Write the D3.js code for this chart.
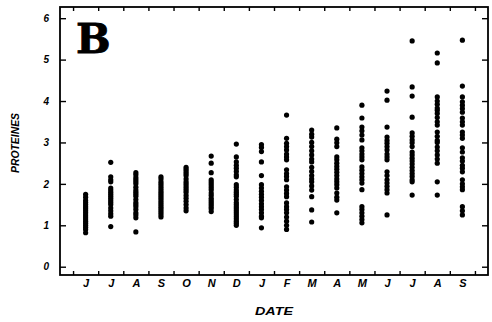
<!DOCTYPE html>
<html>
<head>
<meta charset="utf-8">
<script src="https://cdn.jsdelivr.net/npm/d3@7"></script>
<style>
    body { margin: 0; background: #fff; }
    svg { display: block; }
</style>
</head>
<body>
<div class="chart-container"></div>
<script>
// month labels along the x axis (June -> September of the next year)
const months = ['J', 'J', 'A', 'S', 'O', 'N', 'D', 'J', 'F', 'M', 'A', 'M', 'J', 'J', 'A', 'S'];
const yTicks = [0, 1, 2, 3, 4, 5, 6];

// protein values per sampling month
const jun = [1.75, 1.68, 1.6, 1.55, 1.5, 1.45, 1.4, 1.35, 1.3, 1.25, 1.2, 1.15, 1.1, 1.05, 1.0, 0.95, 0.9, 0.82];
const jul = [2.52, 2.17, 2.1, 2.05, 1.9, 1.85, 1.8, 1.75, 1.7, 1.65, 1.6, 1.55, 1.5, 1.42, 1.35, 1.28, 1.22, 0.97];
const aug = [2.27, 2.22, 2.15, 2.1, 2.05, 2.0, 1.92, 1.85, 1.8, 1.75, 1.7, 1.62, 1.55, 1.5, 1.45, 1.38, 1.3, 1.25, 1.18, 0.84];
const sep = [2.17, 2.12, 2.05, 2.0, 1.95, 1.9, 1.85, 1.8, 1.75, 1.7, 1.65, 1.6, 1.55, 1.5, 1.45, 1.4, 1.35, 1.3, 1.25, 1.2];
const oct = [2.4, 2.35, 2.3, 2.25, 2.2, 2.12, 2.05, 2.0, 1.95, 1.9, 1.85, 1.8, 1.72, 1.65, 1.58, 1.5, 1.42, 1.35];
const nov = [2.67, 2.5, 2.27, 2.1, 2.05, 2.0, 1.95, 1.9, 1.85, 1.78, 1.72, 1.65, 1.6, 1.55, 1.5, 1.45, 1.4, 1.33];
const dec = [2.96, 2.65, 2.53, 2.45, 2.38, 2.3, 2.22, 2.17, 1.98, 1.92, 1.85, 1.8, 1.75, 1.7, 1.62, 1.55, 1.5, 1.45, 1.4, 1.35, 1.3, 1.25, 1.2, 1.15, 1.1, 1.05, 1.0];
const jan = [2.95, 2.88, 2.78, 2.53, 2.2, 1.98, 1.9, 1.82, 1.75, 1.68, 1.6, 1.52, 1.45, 1.38, 1.3, 1.22, 1.18, 0.94];
const feb = [3.66, 3.1, 2.98, 2.9, 2.82, 2.72, 2.65, 2.58, 2.34, 2.25, 2.18, 2.1, 1.93, 1.85, 1.77, 1.69, 1.54, 1.45, 1.38, 1.3, 1.2, 1.1, 1.0, 0.9];
const mar = [3.3, 3.2, 3.13, 3.0, 2.9, 2.8, 2.7, 2.6, 2.53, 2.4, 2.3, 2.2, 2.12, 2.05, 1.95, 1.85, 1.69, 1.37, 1.08];
const apr = [3.35, 3.08, 2.99, 2.9, 2.65, 2.58, 2.5, 2.42, 2.35, 2.28, 2.2, 2.12, 2.05, 1.98, 1.9, 1.78, 1.68, 1.61, 1.3];
const may = [3.9, 3.59, 3.37, 3.28, 3.18, 3.06, 2.87, 2.8, 2.72, 2.65, 2.58, 2.41, 2.33, 2.25, 2.17, 2.1, 2.02, 1.86, 1.45, 1.38, 1.3, 1.22, 1.14, 1.06];
const jun2 = [4.24, 4.02, 3.37, 3.13, 3.05, 2.98, 2.9, 2.82, 2.72, 2.65, 2.58, 2.29, 2.2, 2.1, 2.02, 1.94, 1.86, 1.78, 1.25];
const jul2 = [5.45, 4.34, 4.12, 3.61, 3.23, 3.15, 3.06, 2.99, 2.9, 2.77, 2.7, 2.62, 2.55, 2.48, 2.4, 2.32, 2.25, 2.18, 2.1, 2.05, 1.73];
const aug2 = [5.16, 4.92, 4.1, 4.0, 3.92, 3.83, 3.78, 3.7, 3.6, 3.5, 3.42, 3.25, 3.15, 3.05, 3.0, 2.89, 2.8, 2.7, 2.6, 2.5, 2.05, 1.73];
const sep2 = [5.47, 4.36, 4.1, 3.98, 3.9, 3.82, 3.73, 3.59, 3.5, 3.42, 3.25, 3.18, 3.1, 2.87, 2.77, 2.63, 2.55, 2.45, 2.38, 2.29, 2.1, 2.0, 1.93, 1.86, 1.45, 1.35, 1.25];

const columns = [jun, jul, aug, sep, oct, nov, dec, jan, feb, mar, apr, may, jun2, jul2, aug2, sep2];

const data = [];
columns.forEach((col, i) => col.forEach(v => data.push({ month: i, value: v })));

const width = 492;
const height = 322;
const marginLeft = 60, marginRight = 488, marginTop = 7, marginBottom = 275;

const x = d3.scaleLinear()
    .domain([-0.52, months.length + 0.52])
    .range([marginLeft, marginRight]);

const y = d3.scaleLinear()
    .domain([-0.2, 6.27])
    .range([marginBottom, marginTop]);

const svg = d3.select('.chart-container').append('svg')
    .attr('width', width)
    .attr('height', height);

const boundaries = d3.range(0, months.length + 1);

// ticks on all four sides, pointing inward
svg.append('g')
    .attr('transform', `translate(0,${marginBottom})`)
    .call(d3.axisBottom(x).tickValues(boundaries).tickSize(-4).tickFormat(''));

svg.append('g')
    .attr('transform', `translate(0,${marginTop})`)
    .call(d3.axisTop(x).tickValues(boundaries).tickSize(-4).tickFormat(''));

svg.append('g')
    .attr('class', 'y-axis')
    .attr('transform', `translate(${marginLeft},0)`)
    .call(d3.axisLeft(y).tickValues(yTicks).tickSize(-6).tickPadding(11).tickFormat(d3.format('d')));

svg.append('g')
    .attr('transform', `translate(${marginRight},0)`)
    .call(d3.axisRight(y).tickValues(yTicks).tickSize(-6).tickFormat(''));

// month labels centred between ticks
svg.append('g')
    .attr('class', 'x-labels')
    .attr('transform', `translate(0,${marginBottom})`)
    .call(d3.axisBottom(x).tickValues(months.map((m, i) => i + 0.5)).tickSize(0).tickPadding(4)
        .tickFormat((d, i) => months[i]));

svg.selectAll('.domain').remove();
svg.selectAll('.tick line').attr('stroke', '#000').attr('stroke-width', 1.4);
svg.selectAll('.y-axis .tick text')
    .style('font', "bold italic 10px 'Liberation Sans', Arial, sans-serif")
    .attr('fill', '#000');
svg.selectAll('.x-labels .tick text')
    .style('font', "bold italic 11px 'Liberation Sans', Arial, sans-serif")
    .attr('fill', '#000');

// frame
svg.append('rect')
    .attr('x', marginLeft)
    .attr('y', marginTop)
    .attr('width', marginRight - marginLeft)
    .attr('height', marginBottom - marginTop)
    .attr('fill', 'none')
    .attr('stroke', '#000')
    .attr('stroke-width', 1.8);

// dots
svg.append('g')
    .selectAll('circle')
    .data(data)
    .enter()
    .append('circle')
    .attr('cx', d => x(d.month + 0.5))
    .attr('cy', d => y(d.value))
    .attr('r', 2.6)
    .attr('fill', '#000');

// panel letter
svg.append('text')
    .attr('x', 76)
    .attr('y', 53)
    .style('font', "bold 41px 'DejaVu Serif', serif")
    .attr('stroke', '#000')
    .attr('stroke-width', 0.8)
    .text('B');

// axis titles
svg.append('text')
    .attr('transform', 'translate(19,143) rotate(-90)')
    .attr('text-anchor', 'middle')
    .attr('textLength', 60)
    .attr('lengthAdjust', 'spacingAndGlyphs')
    .style('font', "bold italic 11px 'Liberation Sans Narrow', 'Liberation Sans', sans-serif")
    .text('PROTEINES');

svg.append('text')
    .attr('x', 255)
    .attr('y', 315)
    .attr('textLength', 38)
    .attr('lengthAdjust', 'spacingAndGlyphs')
    .style('font', "bold italic 10px 'Liberation Sans', sans-serif")
    .text('DATE');
</script>
</body>
</html>
